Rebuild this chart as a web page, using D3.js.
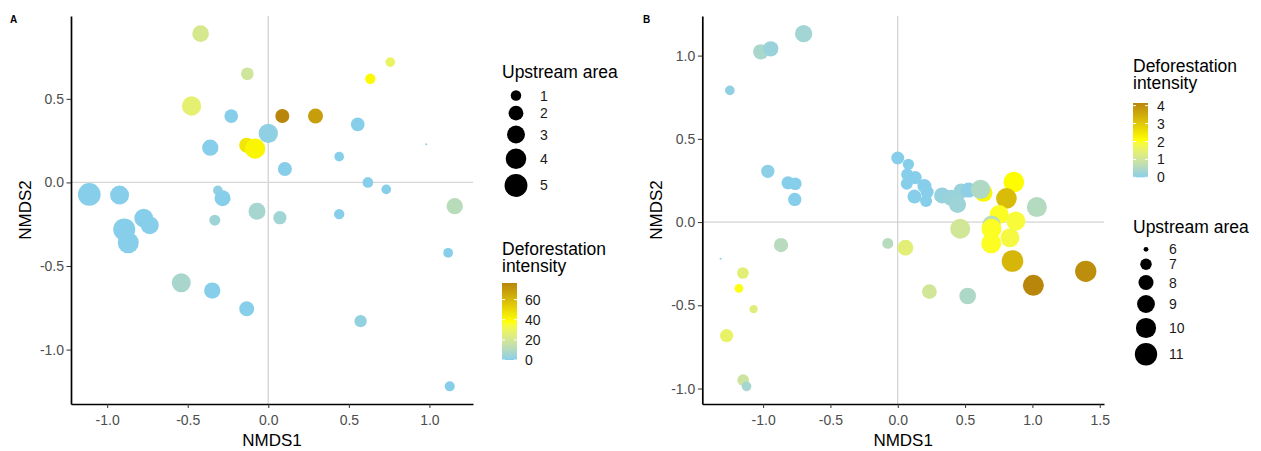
<!DOCTYPE html>
<html><head><meta charset="utf-8">
<script src="https://cdn.jsdelivr.net/npm/d3@7"></script>
<style>body{margin:0;background:#fff;} svg{display:block;font-family:"Liberation Sans",Arial,sans-serif;}</style>
</head><body><svg id="chart" width="1261" height="451"></svg>
<script>
// ---------- Panel A data ----------
const aNMDS1 = [-0.42,-0.13,0.757,0.633,-0.476,-0.23,0.087,0.293,0.555,0.0,-0.36,-0.134,-0.082,0.44,0.98,0.103,0.618,0.732,1.157,-1.111,-0.923,-0.313,-0.284,-0.07,0.072,0.44,-0.332,-0.773,-0.736,-0.894,-0.869,1.116,-0.54,-0.348,-0.134,0.573,1.126];
const aNMDS2 = [0.89,0.65,0.72,0.62,0.457,0.397,0.397,0.397,0.347,0.293,0.208,0.223,0.202,0.154,0.228,0.08,0.0,-0.042,-0.142,-0.072,-0.076,-0.048,-0.094,-0.172,-0.211,-0.19,-0.226,-0.214,-0.256,-0.281,-0.361,-0.421,-0.6,-0.647,-0.756,-0.83,-1.22];
const aUpstream = [2.58,1.46,0.85,0.96,3.5,1.71,1.79,2.07,1.71,3.5,2.46,2.07,3.9,0.85,0.2,1.79,1.03,0.85,2.46,4.93,3.39,0.85,2.36,2.68,1.61,0.96,1.09,3.28,3.02,4.61,4.18,0.85,3.39,2.46,2.07,1.37,0.91];
const aDefor = [21,18.4,29,40,27,0,76.5,69,0,1.5,0,46,41,0,0,0,0,0,11.5,0,0,2,0,6.5,5.4,0,5,0,0,0,0,0,7,0,0,2.5,0];

// ---------- Panel B data ----------
const bNMDS1 = [-1.017,-0.943,-0.699,-1.247,-0.965,-0.815,-0.761,-0.765,0.0,0.079,0.07,0.13,0.067,0.198,0.218,0.124,0.21,0.329,0.395,0.444,0.47,0.526,0.637,0.615,0.862,0.807,1.033,0.753,0.877,0.696,0.696,0.833,0.694,0.464,0.057,-0.074,0.852,1.007,1.396,0.235,0.519,-0.867,-1.316,-1.15,-1.18,-1.071,-1.271,-1.148,-1.123];
const bNMDS2 = [1.023,1.041,1.132,0.791,0.305,0.236,0.23,0.136,0.385,0.347,0.286,0.267,0.23,0.216,0.18,0.153,0.126,0.16,0.146,0.106,0.186,0.192,0.176,0.196,0.24,0.142,0.09,0.046,0.006,-0.014,-0.04,-0.094,-0.128,-0.04,-0.154,-0.128,-0.234,-0.38,-0.296,-0.418,-0.444,-0.138,-0.22,-0.306,-0.398,-0.523,-0.682,-0.949,-0.987];
const bUpstream = [8.09,8.09,8.79,6.63,7.48,7.4,7.3,7.48,7.4,6.97,7.14,7.4,7.14,7.68,7.4,7.68,7.14,8.32,8.32,8.68,7.99,7.99,9.06,9.6,10.2,10.2,9.9,9.47,9.47,9.06,9.9,9.47,9.9,9.9,8.22,6.9,10.7,10.36,10.5,7.89,8.57,7.77,5.9,7.06,6.46,6.39,7.48,7.06,6.63];
const bDefor = [0.4,0.2,0.3,0.1,0.05,0,0,0,0,0,0,0,0,0,0,0,0,0.15,0.2,0.25,0.2,0.05,2.2,0.5,2.1,3.2,0.55,2.0,1.9,0.65,2.0,1.85,2.0,1.05,1.4,0.58,3.3,4.15,4.0,1.05,0.45,0.6,0,1.4,2.05,1.35,1.55,0.95,0.35];

// ---------- ticks & legend breaks ----------
const aXTicks = [-1.0,-0.5,0.0,0.5,1.0];
const aYTicks = [-1.0,-0.5,0.0,0.5];
const bXTicks = [-1.0,-0.5,0.0,0.5,1.0,1.5];
const bYTicks = [-1.0,-0.5,0.0,0.5,1.0];
const aAreaBreaks = [1,2,3,4,5];
const bAreaBreaks = [6,7,8,9,10,11];
const aDeforBreaks = [0,20,40,60];
const bDeforBreaks = [0,1,2,3,4];
const palette = ["#87CEEB","#FFFF00","#B8860B"];

const svg = d3.select("#chart");
const defs = svg.append("defs");
const fmt = d => d.toFixed(1);
function expand(e){const r=e[1]-e[0];return [e[0]-0.05*r,e[1]+0.05*r];}

function drawPanel(c){
  const x = d3.scaleLinear().domain(expand(d3.extent(c.nm1))).range([c.box.l,c.box.r]);
  const y = d3.scaleLinear().domain(expand(d3.extent(c.nm2))).range([c.box.b,c.box.t]);
  const col = d3.scaleLinear().domain([0,c.defMax/2,c.defMax]).range(palette).interpolate(d3.interpolateLab);
  const t = d3.scaleLinear().domain(c.areaDom).range([0,1]).clamp(true);
  const diam = v => c.dRange[0]+(c.dRange[1]-c.dRange[0])*Math.sqrt(t(v));
  const g = svg.append("g");

  g.append("line").attr("x1",c.box.l).attr("x2",c.box.r).attr("y1",y(0)).attr("y2",y(0))
    .attr("stroke",c.refCol).attr("stroke-width",c.refW);
  g.append("line").attr("x1",x(0)).attr("x2",x(0)).attr("y1",c.box.t).attr("y2",c.box.b)
    .attr("stroke",c.refCol).attr("stroke-width",c.refW);

  g.append("g").selectAll("circle").data(d3.range(c.nm1.length)).join("circle")
    .attr("cx",i=>x(c.nm1[i])).attr("cy",i=>y(c.nm2[i]))
    .attr("r",i=>diam(c.area[i])/2).attr("fill",i=>col(c.defor[i]));

  const xa = g.append("g").attr("transform",`translate(0,${c.box.b})`)
    .call(d3.axisBottom(x).tickValues(c.xTicks).tickFormat(fmt).tickSize(4).tickSizeOuter(0).tickPadding(7));
  const ya = g.append("g").attr("transform",`translate(${c.box.l},0)`)
    .call(d3.axisLeft(y).tickValues(c.yTicks).tickFormat(fmt).tickSize(4.5).tickSizeOuter(0).tickPadding(2.5));
  [xa,ya].forEach(a=>{
    a.select(".domain").attr("stroke","#000").attr("stroke-width",1.7);
    a.selectAll(".tick line").attr("stroke","#333").attr("stroke-width",1);
    a.selectAll(".tick text").attr("fill","#4d4d4d").attr("font-size",14).attr("font-family",null);
  });

  // axis titles
  g.append("text").attr("x",(c.box.l+c.box.r)/2).attr("y",446).attr("text-anchor","middle")
    .attr("font-size",17).text("NMDS1");
  g.append("text").attr("transform",`translate(${c.box.l-40},${(c.box.t+c.box.b)/2}) rotate(-90)`)
    .attr("text-anchor","middle").attr("font-size",17).text("NMDS2");
  g.append("text").attr("x",c.labelPos[0]).attr("y",c.labelPos[1]).attr("font-size",10)
    .attr("font-weight","bold").text(c.label);

  // size legend
  const sl = c.sizeLeg;
  g.append("text").attr("x",sl.x).attr("y",sl.titleY).attr("font-size",17.5).text("Upstream area");
  let cy = sl.firstY;
  c.areaBreaks.forEach((b,i)=>{
    if(i>0){const prev=diam(c.areaBreaks[i-1]),cur=diam(b);cy+=Math.max(15,(prev+cur)/2+5);}
    g.append("circle").attr("cx",sl.keyX).attr("cy",cy).attr("r",diam(b)/2).attr("fill","#000");
    g.append("text").attr("x",sl.labX).attr("y",cy).attr("dy","0.36em").attr("font-size",14).attr("fill","#1a1a1a").text(b);
  });

  // colour legend
  const cl = c.colLeg;
  g.append("text").attr("x",cl.x).attr("y",cl.titleY).attr("font-size",17.5).text("Deforestation");
  g.append("text").attr("x",cl.x).attr("y",cl.titleY+17.5).attr("font-size",17.5).text("intensity");
  const gid = "grad"+c.label;
  const grad = defs.append("linearGradient").attr("id",gid).attr("x1",0).attr("y1",1).attr("x2",0).attr("y2",0);
  d3.range(0,1.0001,0.02).forEach(f=>grad.append("stop").attr("offset",f).attr("stop-color",col(f*c.defMax)));
  const cs = d3.scaleLinear().domain([0,c.defMax]).range([cl.barBottom,cl.barTop]);
  g.append("rect").attr("x",cl.x).attr("y",cl.barTop).attr("width",cl.barW).attr("height",cl.barBottom-cl.barTop)
    .attr("fill",`url(#${gid})`);
  c.deforBreaks.forEach(b=>{
    const yy = cs(b);
    g.append("line").attr("x1",cl.x).attr("x2",cl.x+3).attr("y1",yy).attr("y2",yy).attr("stroke","#fff").attr("stroke-width",1);
    g.append("line").attr("x1",cl.x+cl.barW-3).attr("x2",cl.x+cl.barW).attr("y1",yy).attr("y2",yy).attr("stroke","#fff").attr("stroke-width",1);
    g.append("text").attr("x",cl.labX).attr("y",yy).attr("dy","0.36em").attr("font-size",14).attr("fill","#1a1a1a").text(b);
  });
}

drawPanel({
  nm1:aNMDS1,nm2:aNMDS2,area:aUpstream,defor:aDefor,label:"A",labelPos:[10,23],
  box:{l:71,r:473,t:16,b:404},xTicks:aXTicks,yTicks:aYTicks,
  defMax:76.5,areaDom:[0.2,5.3],dRange:[2,23.5],refCol:"#d6d6d6",refW:1.4,
  areaBreaks:aAreaBreaks,deforBreaks:aDeforBreaks,
  sizeLeg:{x:502,titleY:78,keyX:516,labX:540,firstY:95.5},
  colLeg:{x:502,titleY:254.5,barTop:283,barBottom:360,barW:15,labX:525}
});
drawPanel({
  nm1:bNMDS1,nm2:bNMDS2,area:bUpstream,defor:bDefor,label:"B",labelPos:[643,23],
  box:{l:702.3,r:1104,t:16,b:404},xTicks:bXTicks,yTicks:bYTicks,
  defMax:4.15,areaDom:[5.9,11.3],dRange:[2,22.9],refCol:"#c8c8c8",refW:1,
  areaBreaks:bAreaBreaks,deforBreaks:bDeforBreaks,
  sizeLeg:{x:1133,titleY:233,keyX:1146,labX:1169,firstY:249.3},
  colLeg:{x:1133,titleY:71.7,barTop:103,barBottom:177.3,barW:15,labX:1157}
});
</script></body></html>
